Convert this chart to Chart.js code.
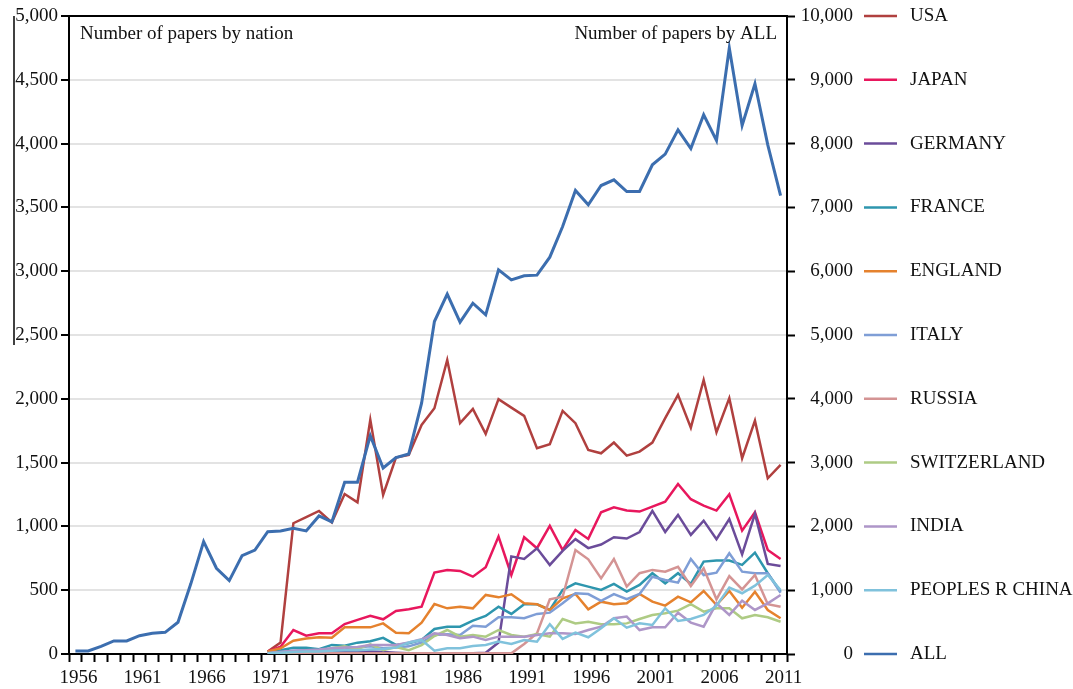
<!DOCTYPE html>
<html>
<head>
<meta charset="utf-8">
<title>Number of papers by nation</title>
<script src="https://cdn.jsdelivr.net/npm/chart.js@4.4.0/dist/chart.umd.min.js"></script>
<style>
  html, body { margin: 0; padding: 0; background: #fff; }
</style>
</head>
<body>
<canvas id="chart" width="1073" height="689"></canvas>
<script>
const years = [
  '1956','1957','1958','1959','1960','1961','1962','1963','1964','1965',
  '1966','1967','1968','1969','1970','1971','1972','1973','1974','1975',
  '1976','1977','1978','1979','1980','1981','1982','1983','1984','1985',
  '1986','1987','1988','1989','1990','1991','1992','1993','1994','1995',
  '1996','1997','1998','1999','2000','2001','2002','2003','2004','2005',
  '2006','2007','2008','2009','2010','2011'
];

// 1956-1970 have no national data
const pre = [null, null, null, null, null, null, null, null, null, null, null, null, null, null, null];

const usa = pre.concat([20, 90, 1025, 1072, 1121, 1032, 1254, 1189, 1835, 1247,
  1539, 1560, 1795, 1926, 2305, 1809, 1921, 1725, 1997, 1931,
  1866, 1612, 1644, 1905, 1809, 1599, 1573, 1657, 1555, 1586,
  1657, 1848, 2031, 1774, 2148, 1738, 2005, 1534, 1829, 1377, 1482]);
const japan = pre.concat([20, 57, 188, 144, 162, 162, 235, 267, 300, 272,
  337, 350, 371, 638, 659, 651, 606, 680, 920, 619,
  915, 829, 1004, 815, 972, 902, 1111, 1150, 1124, 1116,
  1155, 1194, 1333, 1213, 1163, 1124, 1252, 967, 1111, 815, 745]);
const germany = pre.concat([10, 10, 15, 15, 10, 15, 15, 20, 20, 15,
  10, 5, 5, 5, 5, 5, 5, 10, 90, 765,
  745, 829, 698, 808, 900, 830, 858, 915, 905, 956,
  1122, 956, 1090, 933, 1045, 899, 1058, 781, 1098, 706, 690]);
const france = pre.concat([15, 30, 49, 49, 37, 71, 64, 89, 100, 127,
  71, 84, 110, 196, 214, 214, 261, 298, 371, 314,
  390, 390, 345, 502, 554, 528, 502, 549, 489, 541,
  633, 554, 633, 549, 724, 732, 732, 698, 794, 633, 489]);
const england = pre.concat([20, 45, 104, 122, 131, 128, 209, 209, 209, 240,
  167, 162, 246, 392, 358, 371, 358, 463, 444, 468,
  397, 390, 345, 436, 470, 350, 410, 390, 397, 470,
  410, 379, 449, 405, 494, 384, 494, 363, 488, 345, 280]);
const italy = pre.concat([5, 15, 25, 30, 30, 40, 35, 50, 60, 45,
  50, 60, 90, 149, 155, 149, 222, 214, 288, 288,
  280, 314, 324, 397, 476, 470, 416, 470, 429, 470,
  606, 580, 559, 745, 619, 637, 789, 645, 633, 633, 480]);
const russia = pre.concat([5, 5, 5, 5, 5, 5, 5, 5, 5, 5,
  5, 5, 5, 5, 5, 5, 5, 5, 5, 5,
  78, 162, 429, 449, 815, 742, 593, 745, 528, 633,
  659, 645, 684, 533, 672, 429, 611, 507, 619, 390, 371]);
const switzerland = pre.concat([5, 10, 15, 20, 25, 45, 60, 40, 75, 30,
  55, 30, 70, 141, 188, 136, 149, 136, 188, 149,
  136, 157, 136, 274, 240, 253, 233, 233, 240, 274,
  306, 319, 340, 390, 332, 358, 358, 280, 306, 288, 253]);
const india = pre.concat([5, 15, 25, 30, 35, 45, 50, 55, 70, 70,
  70, 90, 115, 162, 149, 123, 136, 110, 136, 136,
  136, 149, 162, 162, 157, 188, 214, 280, 293, 188,
  209, 209, 324, 246, 214, 397, 306, 418, 345, 397, 463]);
const china = pre.concat([5, 10, 15, 20, 20, 25, 30, 30, 35, 40,
  50, 90, 110, 26, 45, 45, 63, 71, 97, 78,
  110, 97, 233, 118, 167, 131, 201, 280, 206, 240,
  227, 358, 259, 274, 306, 379, 520, 476, 536, 619, 502]);
// ALL is read on the right axis
const all = [47, 47, 120, 204, 204, 287, 324, 340, 497, 1100,
  1761, 1344, 1150, 1542, 1630, 1918, 1929, 1971, 1929, 2164,
  2070, 2692, 2692, 3423, 2916, 3078, 3136, 3931, 5211, 5640,
  5201, 5499, 5316, 6021, 5864, 5927, 5938, 6220, 6700, 7265,
  7040, 7343, 7432, 7249, 7249, 7668, 7835, 8216, 7923, 8452,
  8049, 9497, 8284, 8938, 7981, 7186];

const names = ['USA', 'JAPAN', 'GERMANY', 'FRANCE', 'ENGLAND', 'ITALY', 'RUSSIA',
  'SWITZERLAND', 'INDIA', 'PEOPLES R CHINA', 'ALL'];
const colors = ['#B0403F', '#E8175D', '#6B4C9A', '#2E96AE', '#E5822E', '#7F9ED6',
  '#D49494', '#AECB84', '#AE96C8', '#80C2DC', '#3C6EAF'];
const series = [usa, japan, germany, france, england, italy, russia, switzerland, india, china, all];

const serif = "'Liberation Serif', 'Times New Roman', serif";
const ink = '#111';

const datasets = series.map((d, i) => ({
  label: names[i],
  data: d,
  borderColor: colors[i],
  backgroundColor: colors[i],
  borderWidth: i === 10 ? 3 : 2.5,
  pointRadius: 0,
  tension: 0,
  fill: false,
  yAxisID: i === 10 ? 'y2' : 'y',
  order: i === 10 ? 0 : 10 - i
}));

// legend sits next to the right axis ticks, plus the two corner captions
const extras = {
  id: 'extras',
  beforeDatasetsDraw(chart) {
    const ctx = chart.ctx;
    const a = chart.chartArea;
    ctx.save();
    ctx.strokeStyle = '#000';
    ctx.lineWidth = 2;
    ctx.beginPath();
    ctx.moveTo(a.left - 1, a.top);
    ctx.lineTo(a.right + 1, a.top);
    ctx.stroke();
    // stray rule seen at the far left of the original
    ctx.lineWidth = 1.5;
    ctx.beginPath();
    ctx.moveTo(14, a.top);
    ctx.lineTo(14, 345);
    ctx.stroke();
    ctx.restore();
  },
  afterDraw(chart) {
    const ctx = chart.ctx;
    const a = chart.chartArea;
    const y2 = chart.scales.y2;
    ctx.save();
    ctx.font = '19px ' + serif;
    ctx.fillStyle = ink;
    ctx.textBaseline = 'middle';
    ctx.textAlign = 'left';
    ctx.fillText('Number of papers by nation', a.left + 11, a.top + 18);
    ctx.textAlign = 'right';
    ctx.fillText('Number of papers by ALL', a.right - 10, a.top + 18);
    ctx.textAlign = 'left';
    names.forEach((n, i) => {
      const y = y2.getPixelForValue(10000 - i * 1000);
      ctx.strokeStyle = colors[i];
      ctx.lineWidth = 2.5;
      ctx.beginPath();
      ctx.moveTo(864, y);
      ctx.lineTo(897, y);
      ctx.stroke();
      ctx.fillText(n, 910, y);
    });
    ctx.restore();
  }
};

const tickFont = { family: serif, size: 19 };

new Chart(document.getElementById('chart'), {
  type: 'line',
  data: { labels: years, datasets },
  options: {
    responsive: false,
    animation: false,
    devicePixelRatio: 1,
    layout: { padding: { top: 16, right: 220, bottom: 0, left: 0 } },
    plugins: { legend: { display: false }, tooltip: { enabled: false } },
    scales: {
      x: {
        type: 'category',
        offset: true,
        border: { color: '#000', width: 2 },
        grid: { offset: true, drawOnChartArea: false, tickColor: '#000', tickLength: 8, tickWidth: 2 },
        ticks: {
          autoSkip: false, maxRotation: 0, color: ink, font: tickFont, padding: 5,
          labelOffset: 3,
          callback: (v, i) => (i % 5 === 0 ? years[i] : '')
        },
        afterFit: s => { s.height = 35; }
      },
      y: {
        position: 'left',
        min: 0, max: 5000,
        border: { color: '#000', width: 2 },
        grid: { color: '#e3e3e3', lineWidth: 2, tickColor: '#000', tickLength: 8, tickWidth: 2 },
        ticks: { stepSize: 500, color: ink, font: tickFont, padding: 3,
          callback: v => v.toLocaleString('en-US') },
        afterFit: s => { s.width = 69; }
      },
      y2: {
        position: 'right',
        min: 0, max: 10000,
        border: { color: '#000', width: 2 },
        grid: { drawOnChartArea: false, tickColor: '#000', tickLength: 8, tickWidth: 2 },
        ticks: { stepSize: 1000, color: ink, font: tickFont, padding: 0, crossAlign: 'far',
          callback: v => v.toLocaleString('en-US') },
        afterFit: s => { s.width = 66; }
      }
    }
  },
  plugins: [extras]
});
</script>
</body>
</html>
